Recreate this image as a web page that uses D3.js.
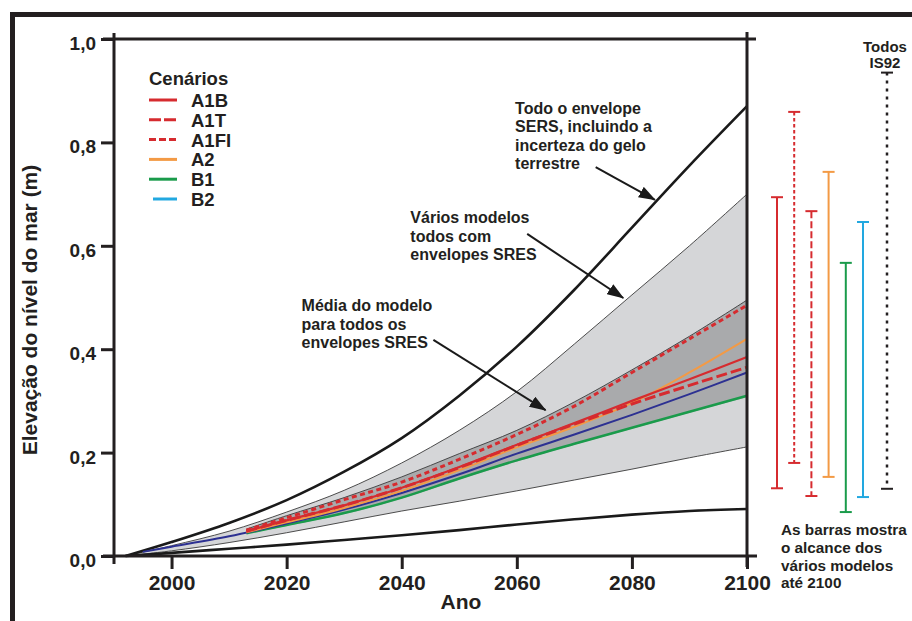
<!DOCTYPE html>
<html>
<head>
<meta charset="utf-8">
<script src="https://cdn.jsdelivr.net/npm/d3@7"></script>
<style>
  body { margin: 0; background: #fff; }
  svg text { font-family: "Liberation Sans", Arial, sans-serif; font-weight: bold; fill: #231f20; }
</style>
</head>
<body>
<div id="seaLevelChart"></div>
<script>
// envelopes (m)
const envYears = [1992, 2000, 2010, 2020, 2030, 2040, 2050, 2060, 2070, 2080, 2090, 2100];
const outerHigh = [0, 0.027, 0.064, 0.108, 0.163, 0.228, 0.31, 0.405, 0.515, 0.635, 0.755, 0.87];
const outerLow = [0, 0.006, 0.014, 0.022, 0.031, 0.04, 0.05, 0.061, 0.071, 0.08, 0.087, 0.091];
const sresHigh = [0, 0.02, 0.048, 0.085, 0.127, 0.18, 0.243, 0.318, 0.41, 0.505, 0.6, 0.70];
const sresLow = [0, 0.01, 0.026, 0.045, 0.066, 0.087, 0.106, 0.126, 0.147, 0.168, 0.19, 0.211];

// model average envelope
const avgYears = [2013, 2020, 2030, 2040, 2050, 2060, 2070, 2080, 2090, 2100];
const avgHigh = [0.052, 0.078, 0.113, 0.153, 0.198, 0.243, 0.298, 0.36, 0.425, 0.495];
const avgLow = [0.043, 0.058, 0.081, 0.111, 0.148, 0.183, 0.215, 0.246, 0.277, 0.307];

// scenario means
const scenarios = ['A1B', 'A1T', 'A1FI', 'A2', 'B1', 'B2'];
const scenYears = [2013, 2020, 2030, 2040, 2050, 2060, 2070, 2080, 2090, 2100];
const a1b = [0.048, 0.069, 0.098, 0.132, 0.172, 0.215, 0.257, 0.30, 0.342, 0.385];
const a1t = [0.048, 0.069, 0.098, 0.132, 0.171, 0.214, 0.255, 0.294, 0.33, 0.365];
const a1fi = [0.05, 0.074, 0.109, 0.143, 0.187, 0.235, 0.29, 0.355, 0.42, 0.485];
const a2 = [0.046, 0.065, 0.093, 0.126, 0.166, 0.21, 0.25, 0.296, 0.355, 0.42];
const b1 = [0.044, 0.06, 0.083, 0.113, 0.15, 0.185, 0.217, 0.248, 0.279, 0.31];
const b2Years = [1995, 2000, 2010, 2020, 2030, 2040, 2050, 2060, 2070, 2080, 2090, 2100];
const b2 = [0.008, 0.018, 0.038, 0.063, 0.09, 0.122, 0.158, 0.198, 0.235, 0.273, 0.313, 0.355];

// ranges at 2100 (bars on the right, in the figure's left-to-right order)
const barOrder = ['A1B', 'A1FI', 'A1T', 'A2', 'B1', 'B2'];
const barLow = [0.131, 0.18, 0.116, 0.153, 0.085, 0.114];
const barHigh = [0.694, 0.859, 0.667, 0.743, 0.567, 0.646];
const is92Range = [0.13, 0.935];

const xTicks = [2000, 2020, 2040, 2060, 2080, 2100];
const yTicks = [0, 0.2, 0.4, 0.6, 0.8, 1.0];

const colors = { A1B: '#d62b2f', A1T: '#d62b2f', A1FI: '#d62b2f', A2: '#f39a45', B1: '#1a9b4b', B2: '#22a8e0' };
const plotColors = Object.assign({}, colors, { B2: '#2d3192' });
const dashes = { A1B: null, A1T: '11,4', A1FI: '5,3.5', A2: null, B1: null, B2: null };
const barDashes = { A1B: null, A1T: '7,3', A1FI: '3.5,2.5', A2: null, B1: null, B2: null };
const widths = { A1B: 2.2, A1T: 3, A1FI: 3, A2: 2, B1: 2.5, B2: 2 };

const W = 912, H = 621;
const margin = { top: 39, right: 165, bottom: 65, left: 114 };
const width = W - margin.left - margin.right;   // 633
const height = H - margin.top - margin.bottom;  // 517

const svg = d3.select('#seaLevelChart').append('svg')
  .attr('width', W)
  .attr('height', H);

// outer frame (top + left)
svg.append('path')
  .attr('d', `M12.5,${H} V14.5 H${W}`)
  .attr('fill', 'none')
  .attr('stroke', '#231f20')
  .attr('stroke-width', 5);

const chart = svg.append('g')
  .attr('transform', `translate(${margin.left},${margin.top})`);

const x = d3.scaleLinear().domain([1990, 2100]).range([0, width]);
const y = d3.scaleLinear().domain([0, 1]).range([height, 0]);

const zip = (ys, vs) => ys.map((yr, i) => ({ year: yr, v: vs[i] }));

const band = (ys, lo, hi) => ys.map((yr, i) => ({ year: yr, lo: lo[i], hi: hi[i] }));

const smooth = d3.curveCatmullRom.alpha(0.5);

const area = d3.area()
  .x(d => x(d.year))
  .y0(d => y(d.lo))
  .y1(d => y(d.hi))
  .curve(smooth);

const line = d3.line()
  .x(d => x(d.year))
  .y(d => y(d.v))
  .curve(smooth);

// light gray: all SRES envelope
chart.append('path')
  .datum(band(envYears, sresLow, sresHigh))
  .attr('d', area)
  .attr('fill', '#d5d6d8');

chart.append('path')
  .datum(band(avgYears, avgLow, avgHigh))
  .attr('d', area)
  .attr('fill', '#a9aaac');

// thin edges
[[envYears, sresHigh], [envYears, sresLow], [avgYears, avgHigh]].forEach(([ys, vs]) => {
  chart.append('path')
    .datum(zip(ys, vs))
    .attr('d', line)
    .attr('fill', 'none')
    .attr('stroke', '#3a3a3a')
    .attr('stroke-width', 0.9);
});

// outer black envelope
[outerHigh, outerLow].forEach(vs => {
  chart.append('path')
    .datum(zip(envYears, vs))
    .attr('d', line)
    .attr('fill', 'none')
    .attr('stroke', '#1a1a1a')
    .attr('stroke-width', 2.6);
});

// scenario lines
const series = {
  A1B: zip(scenYears, a1b),
  A1T: zip(scenYears, a1t),
  A1FI: zip(scenYears, a1fi),
  A2: zip(scenYears, a2),
  B1: zip(scenYears, b1),
  B2: zip(b2Years, b2)
};

['B1', 'B2', 'A2', 'A1T', 'A1B', 'A1FI'].forEach(k => {
  chart.append('path')
    .datum(series[k])
    .attr('d', line)
    .attr('fill', 'none')
    .attr('stroke', plotColors[k])
    .attr('stroke-width', widths[k])
    .attr('stroke-dasharray', dashes[k]);
});

// axes
const fmt = d3.formatLocale({ decimal: ',', thousands: '.', grouping: [3], currency: ['R$', ''] }).format('.1f');

const yAxis = chart.append('g')
  .attr('class', 'y axis')
  .call(d3.axisLeft(y).tickValues(yTicks).tickSize(13).tickPadding(5).tickFormat(fmt));

yAxis.selectAll('text').attr('dy', '0.55em').style('font-size', '19px');

const xAxis = chart.append('g')
  .attr('class', 'x axis')
  .attr('transform', `translate(0,${height})`)
  .call(d3.axisBottom(x).tickValues(xTicks).tickSize(13).tickPadding(6).tickFormat(d3.format('d')));

xAxis.selectAll('text').style('font-size', '21px');

chart.selectAll('.axis path.domain').remove();
chart.selectAll('.axis line').attr('stroke', '#231f20').attr('stroke-width', 3);
chart.selectAll('.axis text').attr('fill', '#231f20');

// box around the plot
const box = chart.append('g').attr('stroke', '#231f20').attr('stroke-width', 3);
box.append('line').attr('x1', 0).attr('x2', 0).attr('y1', -6).attr('y2', height + 8);
box.append('line').attr('x1', width).attr('x2', width).attr('y1', -7).attr('y2', height + 11);
box.append('line').attr('x1', -11).attr('x2', width + 9).attr('y1', 0).attr('y2', 0);
box.append('line').attr('x1', -11).attr('x2', width + 10).attr('y1', height).attr('y2', height);

// axis titles
svg.append('text')
  .attr('x', 461)
  .attr('y', 609)
  .attr('text-anchor', 'middle')
  .style('font-size', '21px')
  .text('Ano');

svg.append('text')
  .attr('transform', 'translate(37,310) rotate(-90)')
  .attr('text-anchor', 'middle')
  .style('font-size', '21px')
  .text('Elevação do nível do mar (m)');

// legend
const legend = svg.append('g').attr('transform', 'translate(149,0)');
legend.append('text')
  .attr('x', 0)
  .attr('y', 85)
  .style('font-size', '18.5px')
  .text('Cenários');

const legendDash = { A1B: null, A1T: '12,3', A1FI: '7,3', A2: null, B1: null, B2: null };
scenarios.forEach((k, i) => {
  const ly = 100 + i * 19.8;
  legend.append('line')
    .attr('x1', k === 'B2' ? 4 : 0)
    .attr('x2', 28)
    .attr('y1', ly)
    .attr('y2', ly)
    .attr('stroke', colors[k])
    .attr('stroke-width', 3)
    .attr('stroke-dasharray', legendDash[k]);
  legend.append('text')
    .attr('x', 42)
    .attr('y', ly + 7)
    .style('font-size', '18.5px')
    .text(k);
});

// annotations, anchored in data units
const annotations = [
  { lines: ['Todo o envelope', 'SERS, incluindo a', 'incerteza do gelo', 'terrestre'],
    at: [2059.7, 0.855], from: [2073.7, 0.752], to: [2084.0, 0.689] },
  { lines: ['Vários modelos', 'todos com', 'envelopes SRES'],
    at: [2041.5, 0.644], from: [2061.8, 0.623], to: [2078.5, 0.499] },
  { lines: ['Média do modelo', 'para todos os', 'envelopes SRES'],
    at: [2022.6, 0.473], from: [2045.5, 0.418], to: [2065.0, 0.282] }
];

svg.append('defs').append('marker')
  .attr('id', 'head')
  .attr('markerUnits', 'userSpaceOnUse')
  .attr('markerWidth', 17)
  .attr('markerHeight', 12)
  .attr('refX', 16)
  .attr('refY', 6)
  .attr('orient', 'auto')
  .append('path')
  .attr('d', 'M0,0 L17,6 L0,12 Z')
  .attr('fill', '#1a1a1a');

annotations.forEach(a => {
  const t = chart.append('text')
    .attr('x', x(a.at[0]))
    .attr('y', y(a.at[1]))
    .style('font-size', '16px');
  a.lines.forEach((s, i) => {
    t.append('tspan')
      .attr('x', x(a.at[0]))
      .attr('dy', i === 0 ? 0 : 18.5)
      .text(s);
  });
  chart.append('line')
    .attr('x1', x(a.from[0]))
    .attr('y1', y(a.from[1]))
    .attr('x2', x(a.to[0]))
    .attr('y2', y(a.to[1]))
    .attr('stroke', '#1a1a1a')
    .attr('stroke-width', 2)
    .attr('marker-end', 'url(#head)');
});

// range bars at 2100
const barX = d3.scalePoint().domain(barOrder).range([663, 749]);
const capW = 12;

const bars = chart.selectAll('.rangebar')
  .data(barOrder.map((k, i) => ({ key: k, lo: barLow[i], hi: barHigh[i] })))
  .enter().append('g')
  .classed('rangebar', true)
  .attr('stroke', d => colors[d.key])
  .attr('stroke-width', 2);

bars.append('line')
  .attr('x1', d => barX(d.key))
  .attr('x2', d => barX(d.key))
  .attr('y1', d => y(d.hi))
  .attr('y2', d => y(d.lo))
  .attr('stroke-dasharray', d => barDashes[d.key]);

bars.selectAll('.cap')
  .data(d => [d.lo, d.hi].map(v => ({ key: d.key, v: v })))
  .enter().append('line')
  .attr('x1', d => barX(d.key) - capW / 2)
  .attr('x2', d => barX(d.key) + capW / 2)
  .attr('y1', d => y(d.v))
  .attr('y2', d => y(d.v));

const is92X = barX('B2') + 24;
const is92 = chart.append('g').attr('stroke', '#231f20').attr('stroke-width', 2.5);
is92.append('line')
  .attr('x1', is92X).attr('x2', is92X)
  .attr('y1', y(is92Range[1])).attr('y2', y(is92Range[0]))
  .attr('stroke-dasharray', '3,5');
is92Range.forEach(v => {
  is92.append('line')
    .attr('x1', is92X - capW / 2).attr('x2', is92X + capW / 2)
    .attr('y1', y(v)).attr('y2', y(v))
    .attr('stroke-width', 2);
});

const is92Label = chart.append('text')
  .attr('text-anchor', 'middle')
  .style('font-size', '15px');
is92Label.append('tspan').attr('x', is92X - 2).attr('y', 13).text('Todos');
is92Label.append('tspan').attr('x', is92X - 2).attr('y', 29).text('IS92');

const note = svg.append('text').style('font-size', '15.3px');
['As barras mostra', 'o alcance dos', 'vários modelos', 'até 2100'].forEach((s, i) => {
  note.append('tspan')
    .attr('x', 781)
    .attr('y', 535 + i * 17.8)
    .text(s);
});
</script>
</body>
</html>
